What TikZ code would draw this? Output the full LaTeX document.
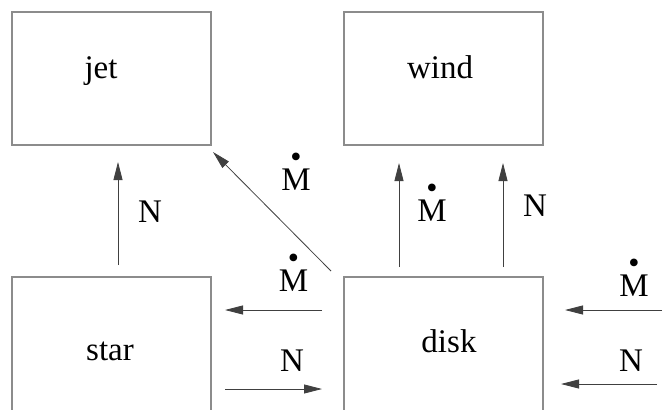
\documentclass[tikz,border=0pt]{standalone}
\usepackage{fontspec}
\setmainfont{Liberation Serif}
\usetikzlibrary{arrows.meta}
\newcommand{\Mflux}{\ooalign{M\cr\hidewidth\raisebox{0.68em}{\fontsize{32}{32}\selectfont •}\hidewidth\cr}}
\begin{document}
\begin{tikzpicture}[x=1pt,y=-1pt,
 box/.style={draw=black!45,line width=1.2pt,minimum width=199pt,minimum height=133pt,inner sep=0pt,outer sep=0pt,anchor=north west},
 tallbox/.style={box,minimum height=200pt},
 lbl/.style={font=\fontsize{33}{36}\selectfont,anchor=base,inner sep=0pt},
 flow/.style={draw=black!75,line width=0.8pt,-{Triangle[length=18pt,width=9pt]}}]
\useasboundingbox (0,0) rectangle (665,410);
\clip (0,0) rectangle (665,410);
% boxes
\node[box] (jet) at (12,12) {};
\node[box] (wind) at (344,12) {};
\node[tallbox] (star) at (12,277) {};
\node[tallbox] (disk) at (344,277) {};
% box labels
\node[lbl] (jettxt) at (101,78) {jet};
\node[lbl] (windtxt) at (440,78) {wind};
\node[lbl] (startxt) at (110,360) {star};
\node[lbl] (disktxt) at (449,352) {disk};
% arrow end points
\coordinate (sj0) at (118,265);
\coordinate (sj1) at (118,162);
\coordinate (dj0) at (331,271);
\coordinate (dj1) at (213,152);
\coordinate (ds0) at (322,310);
\coordinate (ds1) at (225,310);
\coordinate (sd0) at (225,389);
\coordinate (sd1) at (322,389);
\coordinate (dwa0) at (399,267);
\coordinate (dwa1) at (399,163);
\coordinate (dwb0) at (503,267);
\coordinate (dwb1) at (503,163);
\coordinate (im0) at (662,310);
\coordinate (im1) at (565,310);
\coordinate (in0) at (657,384);
\coordinate (in1) at (561,384);
% arrows
\draw[flow] (sj0) -- (sj1);
\draw[flow] (dj0) -- (dj1);
\draw[flow] (ds0) -- (ds1);
\draw[flow] (sd0) -- (sd1);
\draw[flow] (dwa0) -- (dwa1);
\draw[flow] (dwb0) -- (dwb1);
\draw[flow] (im0) -- (im1);
\draw[flow] (in0) -- (in1);
% flow labels
\node[lbl] (n1) at (150,222) {N};
\node[lbl] (m1) at (296,190) {\Mflux};
\node[lbl] (m2) at (293.5,291) {\Mflux};
\node[lbl] (n2) at (292,371) {N};
\node[lbl] (m3) at (432,221) {\Mflux};
\node[lbl] (n3) at (535,216) {N};
\node[lbl] (m4) at (634,296) {\Mflux};
\node[lbl] (n4) at (631,371) {N};
\end{tikzpicture}
\end{document}
